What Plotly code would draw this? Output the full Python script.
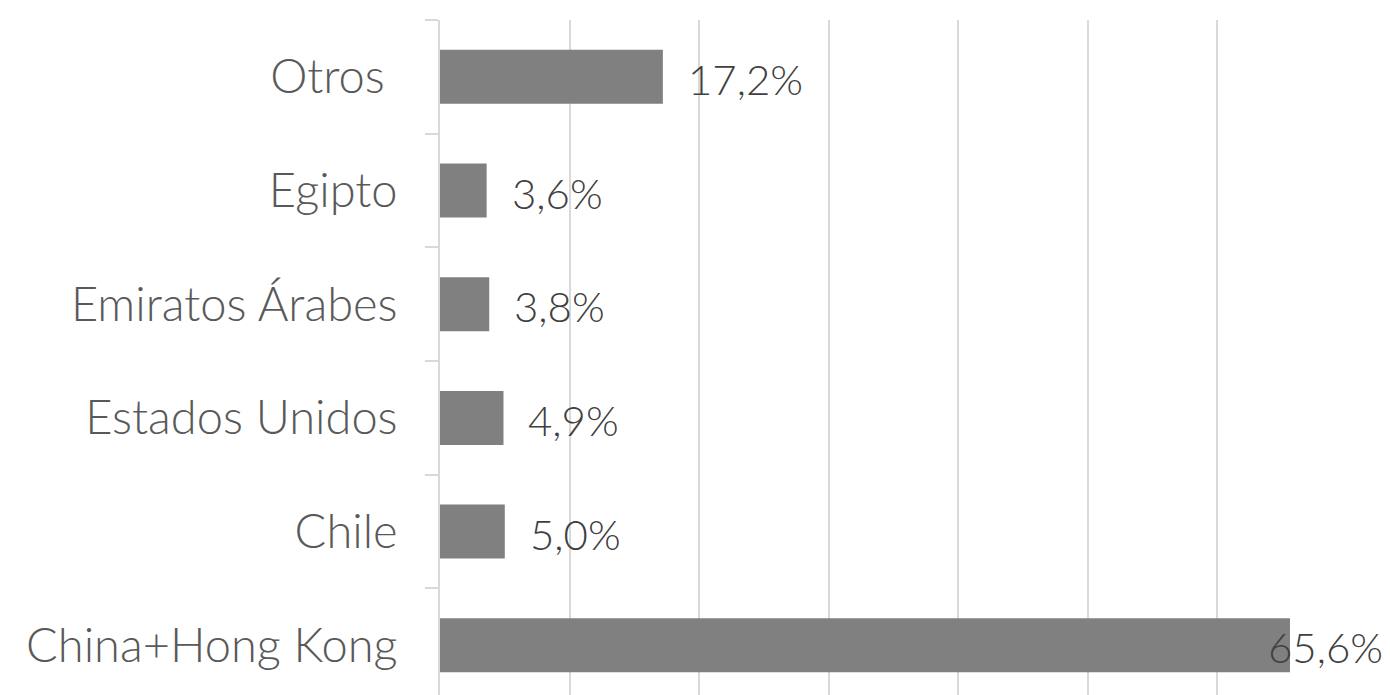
import plotly.graph_objects as go

categories = ["China+Hong Kong", "Chile", "Estados Unidos", "Emiratos Árabes", "Egipto", "Otros\u00a0"]
values = [65.6, 5.0, 4.9, 3.8, 3.6, 17.2]
labels = ["65,6%", "5,0%", "4,9%", "3,8%", "3,6%", "17,2%"]

FONT = "Lato"

fig = go.Figure()
fig.add_trace(go.Bar(
    y=categories, x=values, orientation="h",
    marker=dict(color="#808080", line=dict(width=0)),
    width=0.475, hoverinfo="skip",
))

for c, v, t in zip(categories, values, labels):
    last = v == max(values)
    fig.add_annotation(
        x=v, y=c, text=t, showarrow=False,
        xanchor="left", xshift=(-24 if last else 23), yshift=-2,
        font=dict(family=FONT, size=42, color="#404040", weight=300),
    )

fig.update_layout(
    width=1382, height=687,
    margin=dict(l=432, r=43, t=12, b=0),
    paper_bgcolor="white", plot_bgcolor="white",
    showlegend=False,
    font=dict(family=FONT, size=47, color="#595959", weight=300),
    xaxis=dict(range=[0, 70], dtick=10, showticklabels=False,
               showgrid=True, gridcolor="#d9d9d9", gridwidth=2,
               zeroline=False, showline=False, fixedrange=True),
    yaxis=dict(type="category", range=[-0.437, 5.5],
               categoryorder="array", categoryarray=categories,
               showline=True, linecolor="#d9d9d9", linewidth=2,
               ticks="outside", ticklen=13, tickcolor="#d9d9d9", tickwidth=2,
               tickson="boundaries", showgrid=False,
               ticklabelstandoff=31,
               tickfont=dict(family=FONT, size=47, color="#595959", weight=300)),
)

fig.write_html("out.html")
